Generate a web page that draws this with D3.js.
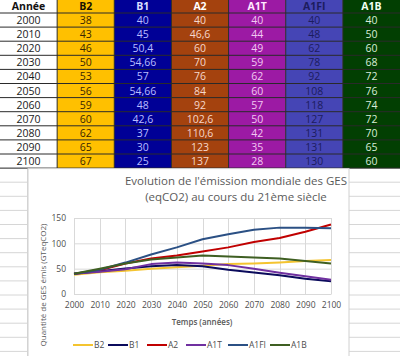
<!DOCTYPE html>
<html><head><meta charset="utf-8">
<script src="https://cdn.jsdelivr.net/npm/d3@7/dist/d3.min.js"></script>
<style>
html,body{margin:0;padding:0;background:#fff;}
svg{display:block;}
</style></head>
<body>
<svg id="c" width="400" height="356"></svg>
<script>
// ---- data ----
const years = [2000, 2010, 2020, 2030, 2040, 2050, 2060, 2070, 2080, 2090, 2100];
const scenarios = ["B2", "B1", "A2", "A1T", "A1FI", "A1B"];
const B2   = [38, 43, 46, 50, 53, 56, 59, 60, 62, 65, 67];
const B1   = [40, 45, 50.4, 54.66, 57, 54.66, 48, 42.6, 37, 30, 25];
const A2   = [40, 46.6, 60, 70, 76, 84, 92, 102.6, 110.6, 123, 137];
const A1T  = [40, 44, 49, 59, 62, 60, 57, 50, 42, 35, 28];
const A1FI = [40, 48, 62, 78, 92, 108, 118, 127, 131, 131, 130];
const A1B  = [40, 50, 60, 68, 72, 76, 74, 72, 70, 65, 60];
const yTicks = [0, 50, 100, 150];
const title = ["Evolution de l'émission mondiale des GES", "(eqCO2) au cours du 21ème siècle"];
const xTitle = "Temps (années)";
const yTitle = "Quantité de GES émis (GTeqCO2)";
const headerFirst = "Année";

const seriesValues = {B2, B1, A2, A1T, A1FI, A1B};

// ---- styles ----
const cellBg   = {B2:"#FFC000", B1:"#000096", A2:"#A4420E", A1T:"#9C1AA4", A1FI:"#4545B5", A1B:"#023F02"};
const cellText = {B2:"#3a2600", B1:"#b8bcff", A2:"#f6d8cc", A1T:"#f2c8f2", A1FI:"#1c1c5e", A1B:"#d8ecd8"};
const headText = {B2:"#1a1200", B1:"#d8dcff", A2:"#ffffff", A1T:"#ffe8ff", A1FI:"#1c1c5e", A1B:"#f0fff0"};
const lineCol  = {B2:"#F4C430", B1:"#0B0B5C", A2:"#C00000", A1T:"#7030A0", A1FI:"#2B5084", A1B:"#3F5F22"};
const FONT = "'Open Sans', 'Liberation Sans', sans-serif";

const svg = d3.select("#c");
const W = 400, H = 356;

// ---- spreadsheet background grid ----
const rowH = 14.1, headH = 13;
const rowY = d3.scaleLinear().domain([0, 1]).range([headH, headH + rowH]);
const gridRows = d3.range(0, 30);
svg.append("g").selectAll("line").data(gridRows.map(i => rowY(i)).filter(v => v > 168 && v < H))
  .join("line").attr("x1", 0).attr("x2", W).attr("y1", d => d).attr("y2", d => d)
  .attr("stroke", "#d6d6d6").attr("stroke-width", 1);
svg.append("line").attr("x1", 27.5).attr("x2", 27.5).attr("y1", 168).attr("y2", H).attr("stroke", "#d6d6d6");

// ---- table ----
const cols = [headerFirst].concat(scenarios);
const colX = d3.scaleBand().domain(cols).range([0, 400]).paddingInner(0).paddingOuter(0);
const colW = colX.bandwidth();
const tbl = svg.append("g");
const fmt = v => String(v).replace(".", ",");

tbl.selectAll("rect.col").data(cols).join("rect")
  .attr("x", d => colX(d)).attr("y", -1).attr("width", colW).attr("height", rowY(years.length) + 1)
  .attr("fill", d => d === headerFirst ? "#ffffff" : cellBg[d]);
tbl.selectAll("line.h").data(d3.range(0, years.length + 1)).join("line")
  .attr("x1", 0).attr("x2", W).attr("y1", d => rowY(d)).attr("y2", d => rowY(d))
  .attr("stroke", "#2a2a2a").attr("stroke-width", 1);
tbl.selectAll("line.v").data(cols.slice(1)).join("line")
  .attr("x1", d => colX(d)).attr("x2", d => colX(d)).attr("y1", -1).attr("y2", rowY(years.length))
  .attr("stroke", "#2a2a2a").attr("stroke-width", 1);
tbl.selectAll("text.hd").data(cols).join("text")
  .attr("x", d => colX(d) + colW / 2).attr("y", 10)
  .attr("text-anchor", "middle").attr("font-family", FONT).attr("font-size", 10.5).attr("font-weight", "bold")
  .attr("fill", d => d === headerFirst ? "#111" : headText[d]).text(d => d);
years.forEach((yr, i) => {
  const yy = rowY(i) + rowH / 2 + 4;
  tbl.append("text").attr("x", colX(headerFirst) + colW / 2).attr("y", yy)
    .attr("text-anchor", "middle").attr("font-family", FONT).attr("font-size", 10.5).attr("fill", "#1a1a1a").text(yr);
  scenarios.forEach(s => {
    tbl.append("text").attr("x", colX(s) + colW / 2).attr("y", yy)
      .attr("text-anchor", "middle").attr("font-family", FONT).attr("font-size", 10.5)
      .attr("fill", cellText[s]).text(fmt(seriesValues[s][i]));
  });
});

// ---- chart box ----
const bx0 = 28, bx1 = 349, by0 = rowY(years.length);
svg.append("rect").attr("x", bx0).attr("y", by0 + 0.5).attr("width", bx1 - bx0).attr("height", H - by0 + 5)
  .attr("fill", "#fff").attr("stroke", "#d0d0d0");

const x = d3.scaleLinear().domain([2000, 2100]).range([74, 331]);
const y = d3.scaleLinear().domain([0, 150]).range([294, 218]);

svg.append("g").selectAll("text").data(title).join("text")
  .attr("x", 236).attr("y", (d, i) => 185 + i * 16)
  .attr("text-anchor", "middle").attr("font-family", FONT).attr("font-size", 11.5).attr("fill", "#5a5a5a").text(d => d);

// gridlines
svg.append("g").selectAll("line").data(yTicks).join("line")
  .attr("x1", x(2000)).attr("x2", x(2100)).attr("y1", d => y(d) + 0.5).attr("y2", d => y(d) + 0.5)
  .attr("stroke", "#d9d9d9");
svg.append("g").selectAll("line").data(years).join("line")
  .attr("x1", d => Math.round(x(d)) + 0.5).attr("x2", d => Math.round(x(d)) + 0.5)
  .attr("y1", y(150)).attr("y2", y(0))
  .attr("stroke", "#d9d9d9");

// axes
const yAxis = d3.axisLeft(y).tickValues(yTicks).tickSize(0).tickPadding(8);
const gy = svg.append("g").attr("transform", `translate(${x(2000)},0)`).call(yAxis);
gy.select(".domain").remove();
gy.selectAll("text").attr("font-family", FONT).attr("font-size", 8.5).attr("fill", "#4d4d4d");

const xAxis = d3.axisBottom(x).tickValues(years).tickFormat(d3.format("d")).tickSize(0).tickPadding(8);
const gx = svg.append("g").attr("transform", `translate(0,${y(0)})`).call(xAxis);
gx.select(".domain").attr("stroke", "#d9d9d9");
gx.selectAll("text").attr("font-family", FONT).attr("font-size", 8.5).attr("fill", "#4d4d4d");

// axis titles
svg.append("text").attr("x", 202).attr("y", 325).attr("text-anchor", "middle")
  .attr("font-family", FONT).attr("font-size", 8).attr("font-weight", "600").attr("fill", "#595959").text(xTitle);
svg.append("text").attr("transform", "translate(46,285) rotate(-90)").attr("text-anchor", "middle")
  .attr("font-family", FONT).attr("font-size", 8).attr("fill", "#595959").text(yTitle);

// lines
const line = d3.line().x((d, i) => x(years[i])).y(d => y(d));
svg.append("g").selectAll("path").data(scenarios).join("path")
  .attr("d", s => line(seriesValues[s])).attr("fill", "none")
  .attr("stroke", s => lineCol[s]).attr("stroke-width", 2).attr("stroke-linejoin", "round");

// legend
const lg = svg.append("g");
const legendX = [73, 108, 147, 186, 228, 270];
scenarios.forEach((s, i) => {
  const lx = legendX[i];
  lg.append("line").attr("x1", lx).attr("x2", lx + 20).attr("y1", 345).attr("y2", 345)
    .attr("stroke", lineCol[s]).attr("stroke-width", 2);
  lg.append("text").attr("x", lx + 21).attr("y", 348).attr("font-family", FONT).attr("font-size", 8.5)
    .attr("fill", "#4d4d4d").text(s);
});
</script>
</body></html>
